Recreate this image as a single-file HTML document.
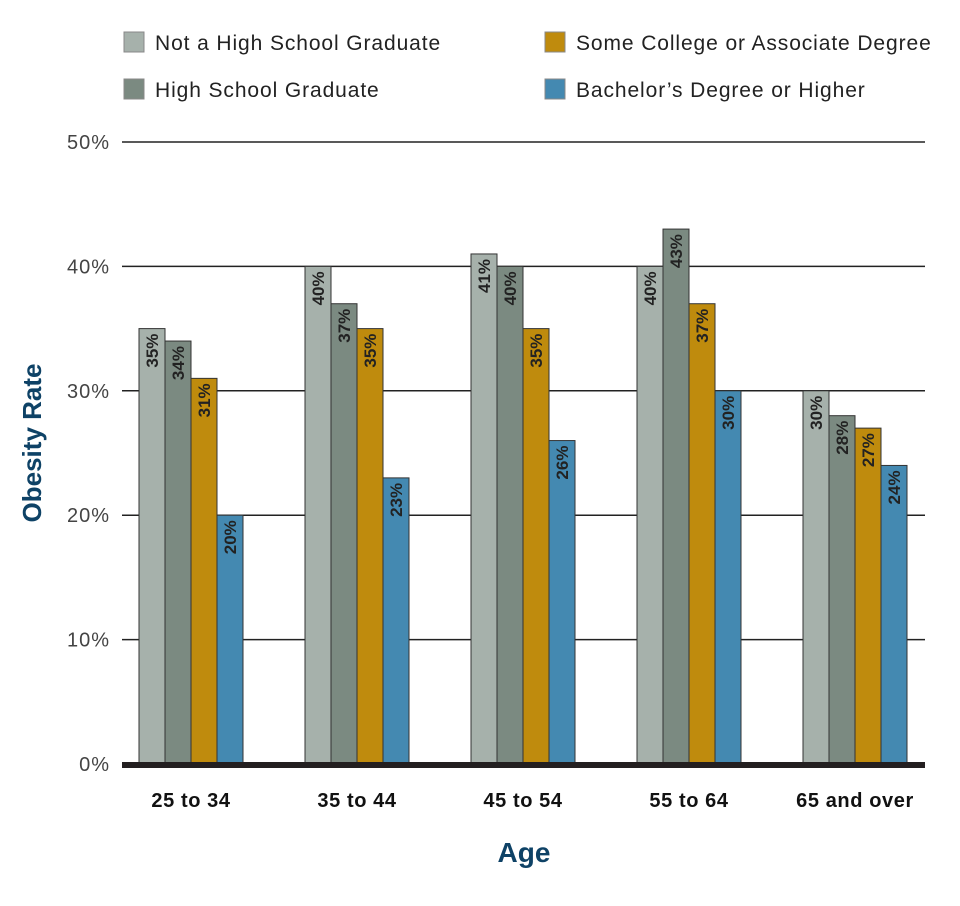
<!DOCTYPE html>
<html><head><meta charset="utf-8"><style>
html,body{margin:0;padding:0;background:#fff;}
svg{display:block;font-family:"Liberation Sans",sans-serif;}
</style></head><body>
<svg id="chart" width="960" height="906" xmlns="http://www.w3.org/2000/svg"></svg>
<script>
const categories = ["25 to 34","35 to 44","45 to 54","55 to 64","65 and over"];
const seriesNames = ["Not a High School Graduate","High School Graduate","Some College or Associate Degree","Bachelor\u2019s Degree or Higher"];
const notHS = [35,40,41,40,30];
const hsGrad = [34,37,40,43,28];
const someCollege = [31,35,35,37,27];
const bachelor = [20,23,26,30,24];
const yTicks = [0,10,20,30,40,50];

const series = [notHS, hsGrad, someCollege, bachelor];
const colors = ["#a6b1ab","#7b8a81","#bf8b0d","#4489b1"];
const NS = "http://www.w3.org/2000/svg";
const svg = document.getElementById('chart');
const y0 = 764, pxPer = (764-142)/50;
function yScale(v){ return y0 - v*pxPer; }
const groupStart = 139, groupStep = 166, barW = 26;
function xScale(gi, si){ return groupStart + gi*groupStep + si*barW; }
function el(tag, attrs, parent){ const e=document.createElementNS(NS,tag); for(const k in attrs) e.setAttribute(k,attrs[k]); (parent||svg).appendChild(e); return e; }

yTicks.forEach(t=>{
  if(t>0){
    const g = el('line',{x1:122,x2:925,y1:yScale(t),y2:yScale(t),stroke:'#222','stroke-width':1.5});
    
    
  }
  const tx = el('text',{x:110,y:yScale(t)+7,'text-anchor':'end','font-size':20,fill:'#444','letter-spacing':1});
  tx.textContent = t+'%';
  
  
});

categories.forEach((c,gi)=>{
  series.forEach((s,si)=>{
    const v = s[gi];
    const x = xScale(gi,si), y = yScale(v);
    const r = el('rect',{x:x,y:y,width:barW,height:y0-y,fill:colors[si],stroke:'#333','stroke-width':1});
    
    
    const cx = x+barW/2+6, cy = y+5;
    const t = el('text',{x:cx,y:cy,transform:'rotate(-90 '+cx+' '+cy+')','text-anchor':'end','font-size':17,'font-weight':'bold',fill:'#222'});
    t.textContent = v+'%';
    
    
  });
  const lab = el('text',{x:xScale(gi,0)+2*barW,y:807,'text-anchor':'middle','font-size':20,'font-weight':'bold',fill:'#111','letter-spacing':0.6});
  lab.textContent = c;
  
  
});

const base = el('rect',{x:122,y:762,width:803,height:6,fill:'#231f20'});



const legendPos = [[124,32],[124,79],[545,32],[545,79]];
seriesNames.forEach((n,i)=>{
  const [lx,ly] = legendPos[i];
  const sq = el('rect',{x:lx,y:ly,width:20,height:20,fill:colors[i],stroke:'#888','stroke-width':1});
  
  
  const t = el('text',{x:lx+31,y:ly+18,'font-size':21,fill:'#222','letter-spacing':0.9});
  t.textContent = n;
  
  
});

const yt = el('text',{x:41,y:443,transform:'rotate(-90 41 443)','text-anchor':'middle','font-size':26,'font-weight':'bold',fill:'#0e4266'});
yt.textContent = 'Obesity Rate';


const xt = el('text',{x:524,y:862,'text-anchor':'middle','font-size':28,'font-weight':'bold',fill:'#0e4266'});
xt.textContent = 'Age';


</script>
</body></html>
